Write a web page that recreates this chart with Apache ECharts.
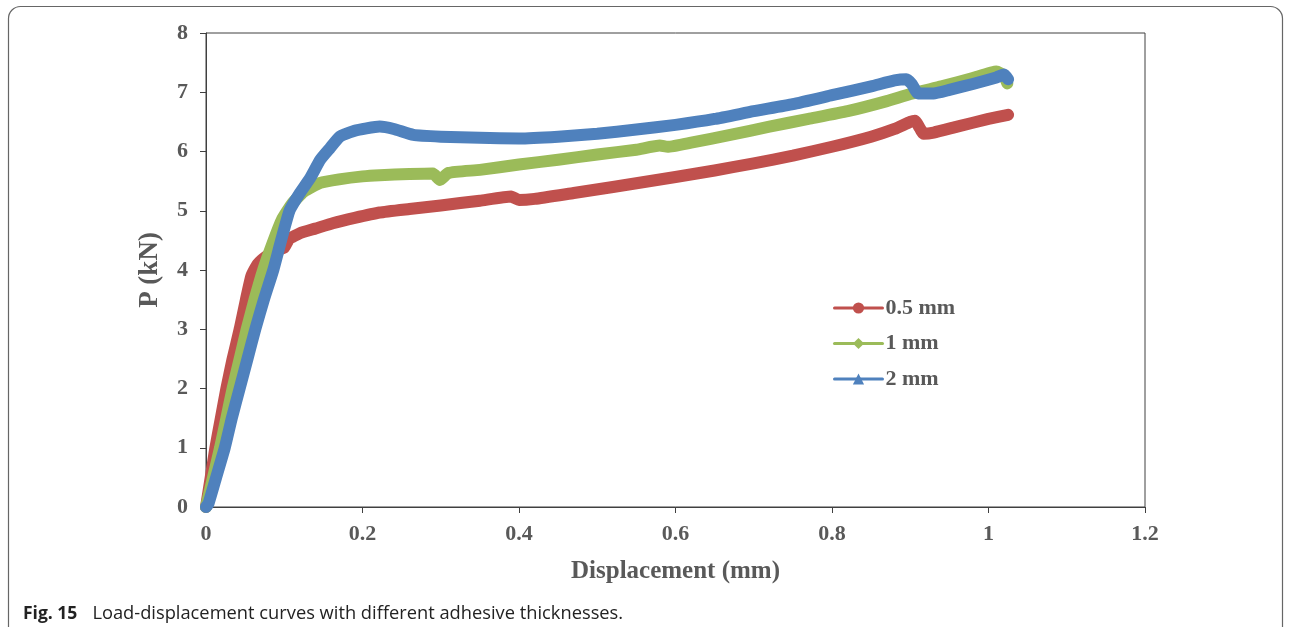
<!DOCTYPE html>
<html>
<head>
<meta charset="utf-8">
<script src="https://cdn.jsdelivr.net/npm/echarts@6/dist/echarts.min.js"></script>
<style>
html,body{margin:0;padding:0;background:#fff;}
#c{width:1290px;height:627px;}
</style>
</head>
<body>
<div id="c"></div>
<script>
const seriesNames = ['0.5 mm', '1 mm', '2 mm'];
const xTicks = [0, 0.2, 0.4, 0.6, 0.8, 1, 1.2];
const yTicks = [0, 1, 2, 3, 4, 5, 6, 7, 8];

const red05 = [[0,0],[0.006,0.5],[0.012,1.0],[0.019,1.5],[0.026,2.0],[0.034,2.5],[0.043,3.0],[0.051,3.5],[0.058,3.9],[0.066,4.1],[0.078,4.24],[0.09,4.33],[0.1,4.38],[0.106,4.52],[0.12,4.62],[0.14,4.7],[0.162,4.79],[0.19,4.88],[0.222,4.97],[0.26,5.03],[0.3,5.09],[0.35,5.17],[0.39,5.24],[0.4,5.18],[0.42,5.2],[0.47,5.3],[0.52,5.4],[0.6,5.57],[0.65,5.68],[0.7,5.8],[0.75,5.93],[0.8,6.08],[0.85,6.25],[0.88,6.38],[0.9,6.5],[0.906,6.52],[0.912,6.4],[0.917,6.3],[0.93,6.32],[0.96,6.42],[1.0,6.55],[1.025,6.62]];

const green1 = [[0,0],[0.009,0.5],[0.018,1.0],[0.026,1.5],[0.034,2.0],[0.043,2.5],[0.052,3.0],[0.062,3.5],[0.073,4.0],[0.085,4.45],[0.097,4.85],[0.11,5.12],[0.125,5.32],[0.146,5.47],[0.17,5.53],[0.2,5.58],[0.222,5.6],[0.26,5.62],[0.29,5.63],[0.299,5.52],[0.31,5.64],[0.35,5.69],[0.4,5.78],[0.45,5.86],[0.5,5.95],[0.55,6.03],[0.58,6.1],[0.59,6.08],[0.62,6.15],[0.67,6.28],[0.72,6.42],[0.77,6.55],[0.82,6.68],[0.87,6.85],[0.9,6.97],[0.94,7.1],[0.98,7.24],[1.01,7.35],[1.02,7.28],[1.024,7.15]];

const blue2 = [[0,0],[0.003,0.05],[0.013,0.5],[0.024,1.0],[0.033,1.5],[0.043,2.0],[0.053,2.5],[0.063,3.0],[0.074,3.5],[0.086,4.0],[0.096,4.5],[0.107,5.01],[0.12,5.3],[0.133,5.55],[0.146,5.86],[0.158,6.05],[0.171,6.25],[0.19,6.35],[0.205,6.39],[0.222,6.42],[0.24,6.38],[0.265,6.28],[0.3,6.25],[0.35,6.23],[0.4,6.22],[0.45,6.25],[0.5,6.3],[0.55,6.37],[0.6,6.45],[0.65,6.55],[0.7,6.68],[0.75,6.8],[0.8,6.95],[0.85,7.1],[0.88,7.2],[0.895,7.22],[0.902,7.14],[0.91,6.98],[0.93,6.98],[0.95,7.04],[0.98,7.14],[1.01,7.25],[1.02,7.3],[1.025,7.22]];

const colors = ['#C0504D', '#9BBB59', '#4F81BD'];
const symbols = ['circle', 'diamond', 'triangle'];
const datasets = [red05, green1, blue2];

const chart = echarts.init(document.getElementById('c'));
const fontSerif = '"Liberation Serif", "Times New Roman", serif';
const txtColor = '#595959';

chart.setOption({
  animation: false,
  backgroundColor: '#fff',
  grid: { left: 206, top: 33, right: 145, bottom: 120, show: true, borderColor: '#404040', borderWidth: 1 },
  title: {
    left: 18, top: 600,
    text: '{b|Fig. 15}   {n|Load-displacement curves with different adhesive thicknesses.}',
    textStyle: {
      rich: {
        b: { fontFamily: '"Open Sans", "Noto Sans", sans-serif', fontWeight: 'bold', fontSize: 17.5, color: '#222' },
        n: { fontFamily: '"Open Sans", "Noto Sans", sans-serif', fontWeight: 'normal', fontSize: 18.3, color: '#222' }
      }
    }
  },
  legend: {
    orient: 'vertical', left: 828, top: 292, itemGap: 13.5, itemWidth: 48, itemHeight: 14,
    data: seriesNames,
    textStyle: { fontFamily: fontSerif, fontWeight: 'bold', fontSize: 22, color: txtColor, padding: [0, 0, 0, -2] },
    lineStyle: { width: 3 }
  },
  xAxis: {
    type: 'value', min: 0, max: 1.2, interval: 0.2,
    name: 'Displacement (mm)', nameLocation: 'middle', nameGap: 52,
    nameTextStyle: { fontFamily: fontSerif, fontWeight: 'bold', fontSize: 25, color: txtColor },
    axisLine: { show: true, lineStyle: { color: '#404040', width: 1 } },
    axisTick: { show: true, length: 6, lineStyle: { color: '#404040' } },
    splitLine: { show: false },
    axisLabel: { margin: 16, fontFamily: fontSerif, fontWeight: 'bold', fontSize: 22, color: txtColor,
      formatter: v => { const t = xTicks.find(k => Math.abs(k - v) < 1e-9); return t === undefined ? '' : String(t); } }
  },
  yAxis: {
    type: 'value', min: 0, max: 8, interval: 1,
    name: 'P (kN)', nameLocation: 'middle', nameGap: 42, nameRotate: 90,
    nameTextStyle: { fontFamily: fontSerif, fontWeight: 'bold', fontSize: 27, color: txtColor },
    axisLine: { show: true, lineStyle: { color: '#404040', width: 1 } },
    axisTick: { show: true, length: 6, lineStyle: { color: '#404040' } },
    splitLine: { show: false },
    axisLabel: { margin: 18, fontFamily: fontSerif, fontWeight: 'bold', fontSize: 22, color: txtColor,
      formatter: v => { const t = yTicks.find(k => Math.abs(k - v) < 1e-9); return t === undefined ? '' : String(t); } }
  },
  graphic: [{
    type: 'rect', silent: true, z: -1,
    shape: { x: 8.5, y: 6.5, width: 1274, height: 640, r: 12 },
    style: { fill: 'none', stroke: '#666', lineWidth: 1.2 }
  }],
  series: datasets.map((d, i) => ({
    name: seriesNames[i], type: 'line', data: d,
    symbol: symbols[i], symbolSize: 12, showSymbol: false,
    smooth: 0.15,
    lineStyle: { color: colors[i], width: 12, cap: 'round', join: 'round' },
    itemStyle: { color: colors[i] },
    emphasis: { disabled: true }
  }))
});
</script>
</body>
</html>
